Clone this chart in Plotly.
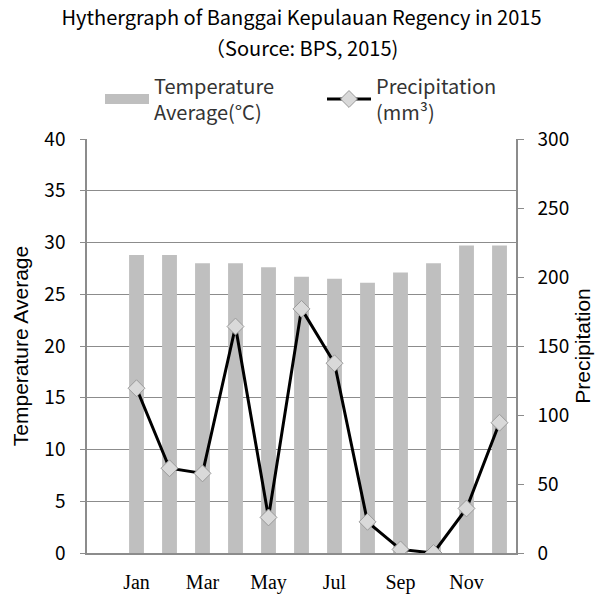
import plotly.graph_objects as go

months = ["Jan", "Feb", "Mar", "Apr", "May", "Jun", "Jul", "Aug", "Sep", "Oct", "Nov", "Dec"]
temperature = [28.8, 28.8, 28.0, 28.0, 27.6, 26.7, 26.5, 26.1, 27.1, 28.0, 29.7, 29.7]
precipitation = [119.4, 61.4, 57.7, 164.1, 25.8, 176.9, 137.5, 22.6, 2.6, 0.0, 32.3, 94.4]
xtick_vals = ["Jan", "Mar", "May", "Jul", "Sep", "Nov"]
left_ticks = [0, 5, 10, 15, 20, 25, 30, 35, 40]
right_ticks = [0, 50, 100, 150, 200, 250, 300]

SANS = "Noto Sans CJK JP, Noto Sans, sans-serif"
ARIAL = "Liberation Sans, Arial, sans-serif"
SERIF = "Liberation Serif, DejaVu Serif, serif"
GRID = "#8c8c8c"
BAR = "#bfbfbf"

fig = go.Figure()
fig.add_trace(go.Bar(
    x=months, y=temperature, name="Temperature<br>Average(°C)",
    marker=dict(color=BAR, line=dict(width=0)), width=0.45,
    yaxis="y", showlegend=False, legendgroup="t",
))
# legend entry for the bars (wide grey swatch as in the reference)
fig.add_trace(go.Scatter(
    x=[None], y=[None], name="Temperature<br>Average(°C)",
    mode="lines", line=dict(color=BAR, width=13), legendgroup="t",
    hoverinfo="skip", legend="legend",
))
fig.add_trace(go.Scatter(
    x=months, y=precipitation, name="Precipitation<br>(mm³)",
    mode="lines+markers",
    line=dict(color="black", width=3),
    marker=dict(symbol="diamond", size=13, color="#d9d9d9",
                line=dict(color="#9a9a9a", width=1)),
    yaxis="y2", legend="legend2",
))

legend_common = dict(
    orientation="h", xanchor="left", xref="container",
    y=1 - 99 / 599, yref="container", yanchor="middle",
    font=dict(family=SANS, size=20, color="#333333"),
    bgcolor="rgba(0,0,0,0)", itemwidth=44,
)

fig.update_layout(
    width=596, height=599,
    paper_bgcolor="white", plot_bgcolor="white",
    margin=dict(l=87, r=80, t=139, b=46, autoexpand=False),
    title=dict(
        text="Hythergraph of Banggai Kepulauan Regency in 2015",
        x=0.5, xanchor="center", xref="paper", y=1 - 18 / 599, yanchor="middle", yref="container",
        font=dict(family=SANS, size=20, color="black"),
    ),
    annotations=[dict(
        text="（Source: BPS, 2015)", xref="paper", yref="paper",
        x=0.5, y=1 + (139 - 48) / 414, xanchor="center", yanchor="middle",
        showarrow=False, font=dict(family=SANS, size=20, color="black"),
    )],
    legend=dict(x=100 / 596, **legend_common),
    legend2=dict(x=322 / 596, **legend_common),
    showlegend=True,
    xaxis=dict(
        type="category", range=[-1.5, 11.5], automargin=False,
        tickmode="array", tickvals=xtick_vals, ticktext=xtick_vals,
        showgrid=False, showline=True, linecolor=GRID, linewidth=1.5,
        ticks="", tickfont=dict(family=SERIF, size=20, color="black"),
        ticklabelstandoff=10,
    ),
    yaxis=dict(
        range=[0, 40], tickmode="array", tickvals=left_ticks, automargin=False,
        showgrid=True, gridcolor=GRID, gridwidth=1.2,
        showline=True, linecolor=GRID, linewidth=1.5,
        ticks="outside", ticklen=5, tickcolor=GRID,
        tickfont=dict(family=SANS, size=19, color="black"),
        ticklabelstandoff=11,
        title=dict(text="Temperature Average", font=dict(family=ARIAL, size=21, color="black"), standoff=10),
        zeroline=False,
    ),
    yaxis2=dict(
        range=[0, 300], tickmode="array", tickvals=right_ticks, automargin=False,
        overlaying="y", side="right", showgrid=False,
        showline=True, linecolor=GRID, linewidth=1.5,
        ticks="outside", ticklen=6, tickcolor=GRID,
        tickfont=dict(family=SANS, size=19, color="black"),
        ticklabelstandoff=10,
        title=dict(text="Precipitation", font=dict(family=ARIAL, size=21, color="black"), standoff=7),
        zeroline=False,
    ),
)

fig.write_html("out.html", config={"displayModeBar": False},
               post_script="document.body.style.margin='0';")
